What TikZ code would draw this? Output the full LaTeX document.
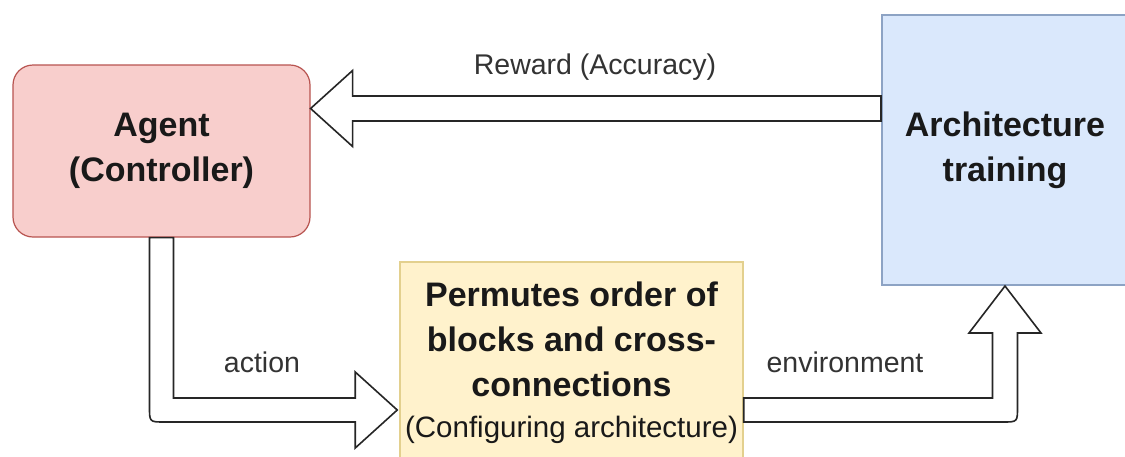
\documentclass[tikz,border=0pt]{standalone}
\usepackage{fontspec}
\setmainfont{Liberation Sans}
\usetikzlibrary{calc}
\definecolor{agentfill}{HTML}{F8CECC}
\definecolor{agentdraw}{HTML}{B85450}
\definecolor{archfill}{HTML}{DAE8FC}
\definecolor{archdraw}{HTML}{8DA3C4}
\definecolor{midfill}{HTML}{FFF2CC}
\definecolor{middraw}{HTML}{E3D08E}
\definecolor{labelgray}{HTML}{333333}
\begin{document}
\begin{tikzpicture}[x=1pt,y=-1pt,
  boxtext/.style={align=center, inner sep=0pt, text=black!90,
    font=\fontsize{34}{45}\selectfont\bfseries},
  agentbox/.style={boxtext, draw=agentdraw, fill=agentfill, line width=1.2pt,
    rounded corners=20pt, minimum width=297pt, minimum height=172pt},
  archbox/.style={boxtext, draw=archdraw, fill=archfill, line width=2pt,
    minimum width=246pt, minimum height=270pt},
  midbox/.style={boxtext, draw=middraw, fill=midfill, line width=1.5pt,
    minimum width=343pt, minimum height=202pt},
  flexarrow/.style={draw=black!85, fill=white, line width=1.6pt, line join=miter},
  edgelabel/.style={inner sep=0pt, anchor=base, text=labelgray,
    font=\fontsize{28.5}{34}\selectfont}
]
\useasboundingbox (0,0) rectangle (1125,456);
\fill[white] (0,0) rectangle (1125,456);
\clip (0,0) rectangle (1125,456);

% boxes
\node[agentbox] (agent) at (161.5,151) {Agent\\(Controller)};
\node[archbox] (arch) at (1005,150) {Architecture\\training};
\node[midbox] (mid) at (571.5,363) {Permutes order of\\blocks and cross-\\connections\\[-4pt]{\fontsize{29.5}{41}\selectfont\mdseries (Configuring architecture)}};

% reward arrow (arch -> agent)
\coordinate (rw) at ($(arch.west)+(0,-41.5)$);
\coordinate (rt) at (agent.east |- rw);
\draw[flexarrow] ($(rw)+(0,-12.5)$) -- ($(rt)+(42,-12.5)$) -- ($(rt)+(42,-38)$)
  -- (rt) -- ($(rt)+(42,38)$) -- ($(rt)+(42,12.5)$) -- ($(rw)+(0,12.5)$) -- cycle;

% action arrow (agent -> mid)
\coordinate (at) at ($(mid.west)+(-2,47)$);
\coordinate (as) at (agent.south);
\coordinate (ac) at (as |- at);
\draw[flexarrow] ($(as)+(-12,0)$) -- ($(ac)+(-12,-3)$)
  .. controls ($(ac)+(-12,12)$) .. ($(ac)+(3,12)$)
  -- ($(at)+(-42,12)$) -- ($(at)+(-42,38)$) -- (at) -- ($(at)+(-42,-38)$)
  -- ($(at)+(-42,-12)$) -- ($(ac)+(12,-12)$) -- ($(as)+(12,0)$) -- cycle;

% environment arrow (mid -> arch)
\coordinate (es) at ($(mid.east)+(0,47)$);
\coordinate (et) at (arch.south);
\coordinate (ec) at (et |- es);
\draw[flexarrow] ($(es)+(0,-12)$) -- ($(ec)+(-12.5,-12)$) -- ($(et)+(-12.5,47)$)
  -- ($(et)+(-36,47)$) -- (et) -- ($(et)+(36,47)$) -- ($(et)+(12.5,47)$)
  -- ($(ec)+(12.5,-3)$) .. controls ($(ec)+(12.5,12)$) .. ($(ec)+(-2.5,12)$)
  -- ($(es)+(0,12)$) -- cycle;

% labels
\node[edgelabel] (lreward) at (595,74) {Reward (Accuracy)};
\node[edgelabel] (laction) at (262,372) {action};
\node[edgelabel] (lenv) at (845,372) {environment};
\end{tikzpicture}
\end{document}
